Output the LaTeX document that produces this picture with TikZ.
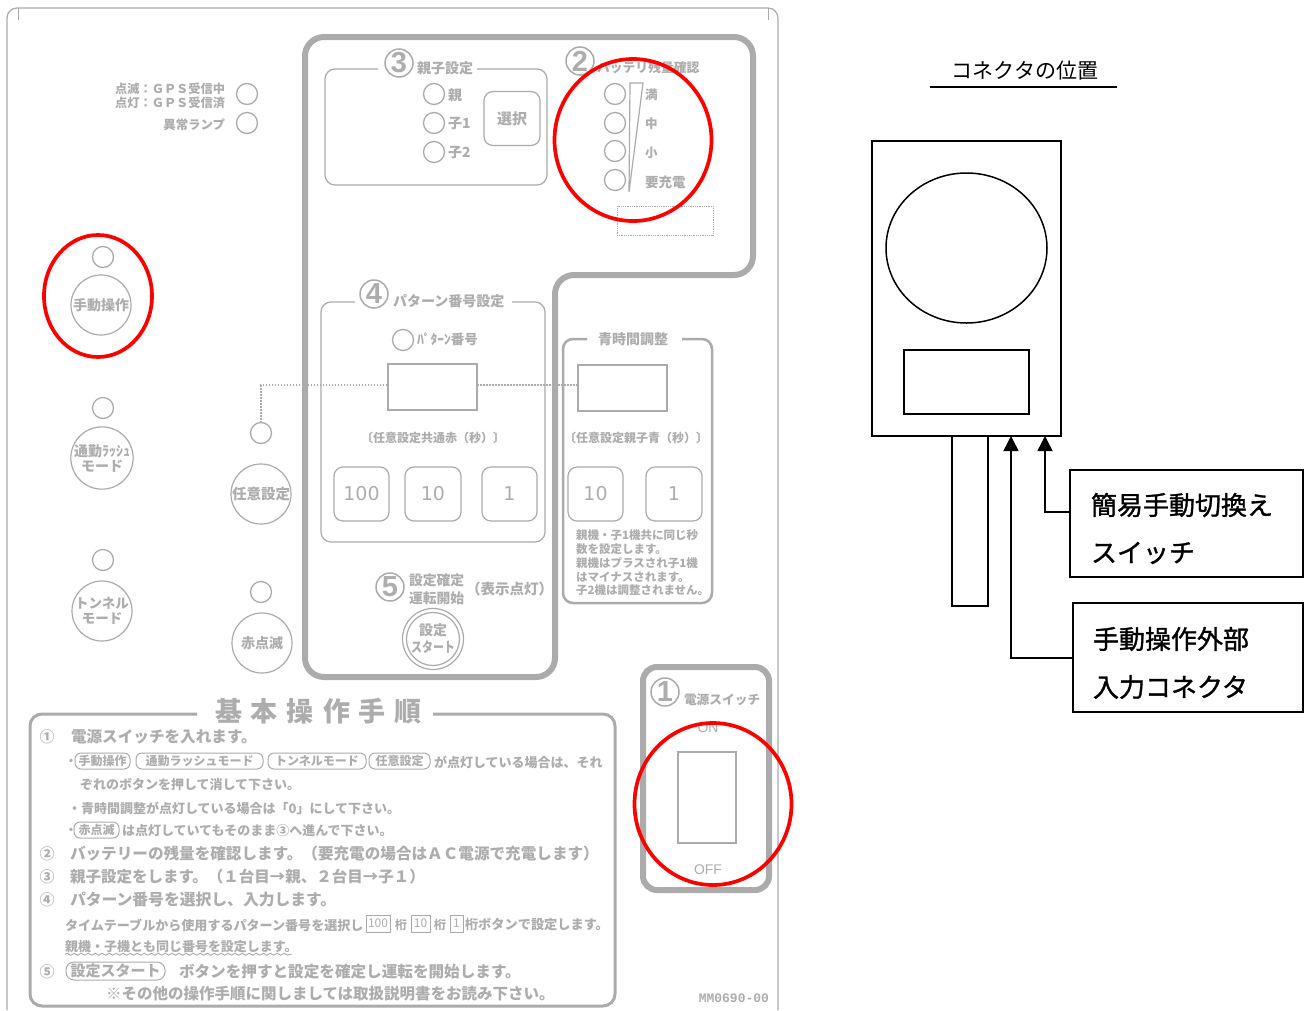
\documentclass[tikz,border=0pt]{standalone}
\usepackage{fontspec}
\setmainfont{Noto Sans CJK JP}
\newfontfamily\latinb{Liberation Sans}
\newfontfamily\widenum{DejaVu Sans}
\newfontfamily\monob{Liberation Mono}
\newfontfamily\jpmed[FakeBold=1.2]{Noto Sans CJK JP}
\usetikzlibrary{arrows.meta,shapes.geometric,decorations.pathmorphing}
\definecolor{pgrey}{HTML}{ABABAB}
\definecolor{tgrey}{HTML}{ADADAD}
\newcommand{\fs}[1]{\fontsize{#1}{#1}\selectfont}
\newcommand{\rb}[1]{\raisebox{-1.5pt}{#1}}
\tikzset{
  x=1pt,y=-1pt,
  every node/.style={inner sep=0pt,outer sep=0pt},
  lab/.style={text=tgrey,anchor=west,font=\fs{#1}\bfseries},
  labc/.style={text=tgrey,anchor=center,font=\fs{#1}\bfseries},
  thin grey/.style={draw=pgrey,line width=1.2pt},
  lamp/.style={circle,thin grey,line width=1.3pt,minimum size=21pt},
  bigbtn/.style={circle,thin grey,minimum size=60pt,text=tgrey,align=center,font=\fs{14}\bfseries},
  btn/.style={rectangle,thin grey,rounded corners=9pt,minimum width=#1,minimum height=54pt,text=tgrey,font=\widenum\fs{19}},
  disp/.style={rectangle,thin grey,line width=1.5pt},
  panel/.style={draw=pgrey,line width=6pt,rounded corners=19pt},
  sub/.style={draw=pgrey,line width=1.2pt,rounded corners=10pt},
  bignum/.style={circle,draw=pgrey,line width=1.5pt,minimum size=28pt,text=tgrey,font=\latinb\fs{29}\bfseries},
  pill/.style={rectangle,draw=pgrey,line width=1pt,rounded corners=6pt,minimum width=#1,minimum height=16pt,text=tgrey,font=\fs{12}\bfseries},
  keyb/.style={rectangle,draw=pgrey,line width=1pt,minimum width=#1,minimum height=17pt,text=tgrey,font=\fs{12}},
  redring/.style={ellipse,draw=red,line width=3.7pt},
  blk/.style={rectangle,draw=black,line width=1.5pt},
  blktxt/.style={anchor=west,text=black,font=\jpmed\fs{26}},
  conn/.style={draw=black,line width=1.5pt,-{Triangle[length=15pt,width=15pt]}},
  dots/.style={draw=pgrey,line width=1.2pt,dash pattern=on 1.5pt off 1.5pt},
}
\begin{document}
\begin{tikzpicture}
\fill[white] (0,0) rectangle (1307,1010);
\useasboundingbox (0,0) rectangle (1307,1010);

% outer plate
\draw[draw=pgrey,line width=1.2pt,rounded corners=10pt] (7,1010) -- (7,8) -- (778,8) -- (778,1010);
\draw[draw=pgrey,line width=1pt] (18,8) -- (18,20) (768,8) -- (768,20);

% dotted link (runs under the panel line)
\node[lamp] (m4) at (261,433) {};
\node[disp,minimum width=89pt,minimum height=46pt] (d1) at (432.5,387) {};
\node[disp,minimum width=89pt,minimum height=46pt] (d2) at (622.5,388) {};
\draw[dots] (m4.north) -- (261,385) -- (d1.west |- 261,385);
\draw[dots] (d1.east |- 0,385) -- (d2.west |- 0,385);

% thick panels
\draw[panel] (305,37) -- (753,37) -- (753,275) -- (555,275) -- (555,677) -- (305,677) -- cycle;
\draw[panel,rounded corners=14pt] (643,667) -- (769,667) -- (769,890) -- (643,890) -- cycle;

% top-left lamps
\node[lab=12.2,anchor=east] (g1) at (225,89) {点滅：ＧＰＳ受信中};
\node[lab=12.2,anchor=east] (g2) at (225,103) {点灯：ＧＰＳ受信済};
\node[lab=12.4,anchor=east] (g3) at (225,125) {異常ランプ};
\node[lamp] (l1) at (247,94) {};
\node[lamp] (l2) at (247,123) {};

% left column buttons
\node[lamp] (m1) at (103,257) {};
\node[bigbtn] (b1) at (101,305) {\rb{手動操作}};
\node[lamp] (m2) at (103,408) {};
\node[bigbtn] (b2) at (102,458) {\rb{通勤ﾗｯｼｭ}\\[1pt]\rb{モード}};
\node[lamp] (m3) at (103,560) {};
\node[bigbtn,font=\fs{13.5}\bfseries] (b3) at (102,611) {\rb{トンネル}\\[1pt]\rb{モード}};
\node[bigbtn,font=\fs{14.5}\bfseries] (b4) at (261,494) {\rb{任意設定}};
\node[lamp] (m5) at (261,592) {};
\node[bigbtn] (b5) at (262,643) {\rb{赤点滅}};

% section 3
\draw[sub] (378,69) -- (325,69) -- (325,185) -- (547,185) -- (547,69) -- (477,69);
\node[bignum] (n3) at (399,63) {3};
\node[lab=14] (t3) at (417,68) {親子設定};
\node[lamp] (p1) at (434,94) {};
\node[lab=14] (p1t) at (448,95) {親};
\node[lamp] (p2) at (434,123) {};
\node[lab=14] (p2t) at (448,124) {子1};
\node[lamp] (p3) at (434,152) {};
\node[lab=14] (p3t) at (448,153) {子2};
\node[btn=56pt,font=\fs{15}\bfseries] (sel) at (512,118.5) {選択};

% section 2
\node[bignum] (n2) at (580,61) {2};
\node[lab=12.8] (t2) at (597,68) {バッテリ残量確認};
\node[lamp] (q1) at (615,94) {};
\node[lamp] (q2) at (615,123) {};
\node[lamp] (q3) at (615,151) {};
\node[lamp] (q4) at (615,180) {};
\draw[draw=pgrey,line width=1.2pt] (629,192) -- (630,83) -- (643,83) -- cycle;
\node[lab=12.5] (q1t) at (645,95) {満};
\node[lab=12.5] (q2t) at (645,124) {中};
\node[lab=12.5] (q3t) at (645,153) {小};
\node[lab=13.5] (q4t) at (645,182) {要充電};
\node[rectangle,draw=pgrey,densely dotted,line width=.8pt,minimum width=96pt,minimum height=29pt] (batt) at (665,220.5) {};

% section 4
\draw[sub] (355,302) -- (321,302) -- (321,542) -- (545,542) -- (545,302) -- (512,302);
\node[bignum] (n4) at (374,294) {4};
\node[lab=14] (t4) at (393,301) {パターン番号設定};
\node[lamp] (pn) at (403,340) {};
\node[lab=13.5] (pnt) at (417,339) {ﾊﾟﾀｰﾝ番号};
\node[labc=12] (c1) at (433,438) {〔任意設定共通赤（秒）〕};
\node[btn=55pt] (k100) at (361.5,494) {\rb{100}};
\node[btn=56pt] (k10) at (433,494) {\rb{10}};
\node[btn=55pt] (k1) at (509.5,494) {\rb{1}};

% blue time box
\draw[sub,line width=2.5pt] (587,339) -- (563,339) -- (563,603) -- (712,603) -- (712,339) -- (682,339);
\node[labc=14] (t6) at (633,339) {青時間調整};
\node[labc=12] (c2) at (636,438) {〔任意設定親子青（秒）〕};
\node[btn=55pt] (k10b) at (595.5,494) {\rb{10}};
\node[btn=56pt] (k1b) at (674,494) {\rb{1}};
\node[lab=11.5] (e1) at (576,535.5) {親機・子1機共に同じ秒};
\node[lab=11.5] (e2) at (576,549) {数を設定します。};
\node[lab=11.5] (e3) at (576,563) {親機はプラスされ子1機};
\node[lab=11.5] (e4) at (576,577) {はマイナスされます。};
\node[lab=11.5] (e5) at (576,590.5) {子2機は調整されません。};

% section 5
\node[bignum] (n5) at (390,587) {5};
\node[lab=13.8,align=left] (s1) at (409,589) {設定確定\\[4.2pt]運転開始};
\node[lab=14.5] (s3) at (466,589) {（表示点灯）};
\node[circle,thin grey,minimum size=61pt] (st1) at (433,639) {};
\node[circle,thin grey,minimum size=53pt,align=center,text=tgrey,font=\fs{14}\bfseries] (st2) at (433,639) {\rb{設定}\\[3pt]\rb{\scalebox{.78}[1]{スタート}}};

% section 1
\node[bignum] (n1) at (665,692) {1};
\node[lab=12.7] (t1) at (684,700) {電源スイッチ};
\node[text=tgrey,font=\latinb\fs{14}] (on) at (708,728) {ON};
\node[disp,minimum width=58pt,minimum height=91pt] (sw) at (707,797.5) {};
\node[text=tgrey,font=\latinb\fs{14}] (off) at (708,870) {OFF};
\node[text=tgrey,anchor=east,font=\monob\fs{13}\bfseries] (mm) at (769,998) {MM0690-00};

% procedure box
\draw[draw=pgrey,line width=3pt,rounded corners=12pt] (197,714) -- (30,714) -- (30,1006) -- (615,1006) -- (615,714) -- (433,714);
\node[text=tgrey,anchor=west,font=\fs{27}\bfseries] (title) at (215,711) {基\kern9pt 本\kern9pt 操\kern9pt 作\kern9pt 手\kern9pt 順};

\node[labc=15] (r1n) at (47,737) {①};
\node[lab=15.6] (r1) at (71,737) {電源スイッチを入れます。};
\node[labc=12] (r2d) at (71,762) {・};
\node[pill=55pt] (a1) at (102.5,761) {手動操作};
\node[pill=127pt] (a2) at (199.5,761) {通勤ラッシュモード};
\node[pill=98pt] (a3) at (317,761) {トンネルモード};
\node[pill=61pt] (a4) at (399.5,761) {任意設定};
\node[lab=13] (r2) at (434,762) {が点灯している場合は、それ};
\node[lab=13] (r3) at (80,785) {ぞれのボタンを押して消して下さい。};
\node[lab=13] (r4) at (68,808) {・青時間調整が点灯している場合は「0」にして下さい。};
\node[labc=12] (r5d) at (71,831) {・};
\node[pill=45pt] (a5) at (96.5,830) {赤点滅};
\node[lab=13] (r5) at (122,831) {は点灯していてもそのまま③へ進んで下さい。};
\node[labc=15] (r6n) at (47,854) {②};
\node[lab=15.6] (r6) at (70,854) {バッテリーの残量を確認します。（要充電の場合はＡＣ電源で充電します）};
\node[labc=15] (r7n) at (47,877) {③};
\node[lab=15.5] (r7) at (70,877) {親子設定をします。（１台目→親、２台目→子１）};
\node[labc=15] (r8n) at (47,900) {④};
\node[lab=15.8] (r8) at (70,900) {パターン番号を選択し、入力します。};
\node[lab=13.05] (r9) at (65,925) {タイムテーブルから使用するパターン番号を選択し};
\node[keyb=24pt] (x100) at (378,923.5) {100};
\node[lab=12] (x1t) at (395,925) {桁};
\node[keyb=19pt] (x10) at (420.5,923.5) {10};
\node[lab=12] (x2t) at (434,925) {桁};
\node[keyb=13pt] (x1) at (456.5,923.5) {1};
\node[lab=13.2] (x3t) at (465,925) {桁ボタンで設定します。};
\node[lab=13] (r10) at (65,947) {親機・子機とも同じ番号を設定します。};
\draw[draw=pgrey,line width=.9pt,decorate,decoration={snake,amplitude=1pt,segment length=7pt}] (r10.south west) ++(0,1) -- ++(227,0);
\node[labc=15] (r11n) at (47,972) {⑤};
\node[pill=99pt,font=\fs{15}\bfseries,rounded corners=8pt,minimum height=18pt] (a6) at (115.5,971) {設定スタート};
\node[lab=15.6] (r11) at (179,972) {ボタンを押すと設定を確定し運転を開始します。};
\node[lab=15.5] (r12) at (106,994) {※その他の操作手順に関しましては取扱説明書をお読み下さい。};

% red rings
\node[redring,minimum width=108pt,minimum height=122pt] (ring1) at (98,296) {};
\node[redring,minimum width=157pt,minimum height=162pt] (ring2) at (633,140) {};
\node[redring,minimum width=157pt,minimum height=162pt] (ring3) at (713,804) {};

% right-hand drawing
\node[anchor=center,text=black,font=\fs{21}] (ctitle) at (1025,71) {コネクタの位置};
\draw[black,line width=2.5pt] (930,87) -- (1117,87);
\node[blk,minimum width=189pt,minimum height=295pt] (shell) at (966.5,288.5) {};
\node[ellipse,draw=black,line width=1.5pt,minimum width=161pt,minimum height=150pt] (lens) at (966.5,248) {};
\node[blk,minimum width=125pt,minimum height=64pt] (win) at (966.5,382) {};
\node[blk,minimum width=36pt,minimum height=170pt] (stem) at (970,521) {};
\node[blk,minimum width=233pt,minimum height=107pt] (box1) at (1186.5,523.5) {};
\node[blk,minimum width=230pt,minimum height=109pt] (box2) at (1188,657.5) {};
\node[blktxt] (b1a) at (1091,505) {簡易手動切換え};
\node[blktxt] (b1b) at (1091,553) {スイッチ};
\node[blktxt] (b2a) at (1093,639) {手動操作外部};
\node[blktxt] (b2b) at (1093,687) {入力コネクタ};
\coordinate (tip1) at (1045,436);
\coordinate (tip2) at (1011,436);
\draw[conn] ([yshift=11.5pt]box1.west) -| (tip1);
\draw[conn] ([yshift=-.5pt]box2.west) -| (tip2);
\end{tikzpicture}
\end{document}
